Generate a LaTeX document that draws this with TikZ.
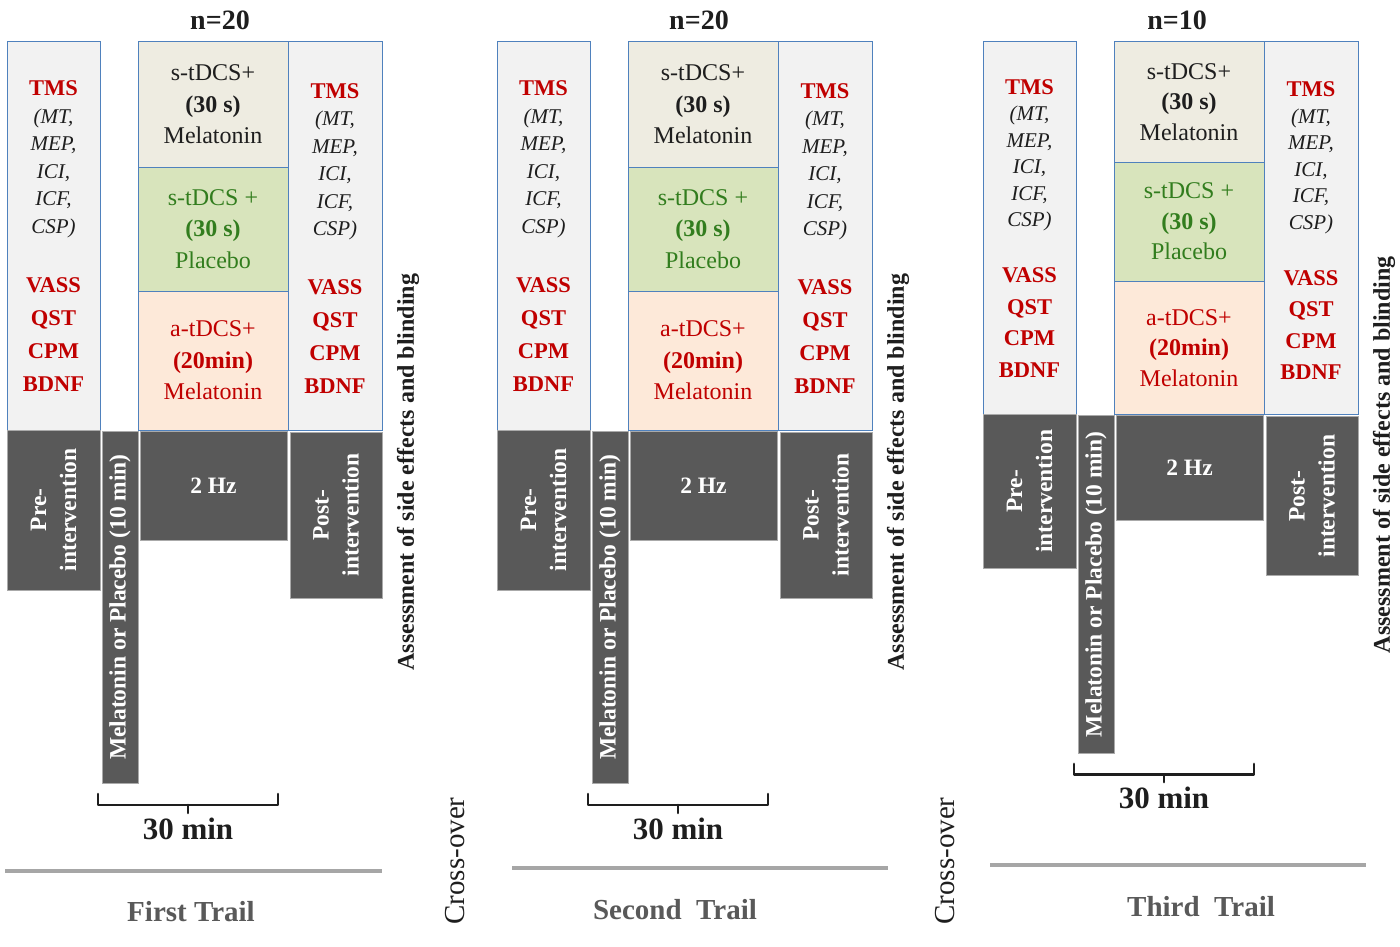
\documentclass[tikz,border=0pt]{standalone}
\usepackage{fontspec}
\setmainfont{Liberation Serif}
\usetikzlibrary{fit}
\definecolor{boxblue}{RGB}{79,129,189}
\definecolor{lightfill}{RGB}{242,242,242}
\definecolor{beigefill}{RGB}{238,236,225}
\definecolor{greenfill}{RGB}{216,228,188}
\definecolor{salmonfill}{RGB}{253,233,217}
\definecolor{darkfill}{RGB}{89,89,89}
\definecolor{darkedge}{RGB}{170,170,170}
\definecolor{redtxt}{RGB}{192,0,0}
\definecolor{greentxt}{RGB}{50,125,30}
\definecolor{linegray}{RGB}{166,166,166}
\definecolor{trailgray}{RGB}{89,89,89}
\definecolor{txt}{RGB}{30,30,30}
\newcommand\PX[1]{#1+\pxo}
\newcommand\PY[1]{42+\pysc*(#1-42)}
\newcommand\mtRed[1]{{\color{redtxt}\bfseries\fontsize{22.5}{\mbs}\selectfont #1}}
\newcommand\mtIt[1]{{\color{txt}\itshape\fontsize{21}{\mbs}\selectfont #1}}
\newcommand\measlines{\mtRed{TMS}\\\mtIt{(MT,}\\\mtIt{MEP,}\\\mtIt{ICI,}\\\mtIt{ICF,}\\\mtIt{CSP)}\\[\mgapA]\mtRed{VASS}\\[\mgapB]\mtRed{QST}\\[\mgapB]\mtRed{CPM}\\[\mgapB]\mtRed{BDNF}}
\tikzset{
  measbox/.style={draw=boxblue, fill=lightfill, line width=1pt, inner sep=0pt},
  melbox/.style={draw=boxblue, fill=beigefill, line width=1pt, inner sep=0pt},
  plabox/.style={draw=boxblue, fill=greenfill, line width=1pt, inner sep=0pt},
  anobox/.style={draw=boxblue, fill=salmonfill, line width=1pt, inner sep=0pt},
  darkbox/.style={draw=darkedge, fill=darkfill, line width=0.8pt, inner sep=0pt},
  meastext/.style={align=center, inner sep=0pt, font=\fontsize{21}{\mbs}\selectfont},
  ctext/.style={align=center, inner sep=0pt, font=\fontsize{24}{\cbs}\selectfont},
  darktext/.style={align=center, inner sep=0pt, text=white, font=\bfseries\fontsize{23.5}{30}\selectfont},
  assess/.style={inner sep=0pt, text=txt, font=\bfseries\fontsize{24}{28}\selectfont},
  nlabel/.style={inner sep=0pt, text=txt, font=\bfseries\fontsize{28}{32}\selectfont},
  minlabel/.style={inner sep=0pt, text=txt, font=\bfseries\fontsize{31}{36}\selectfont},
  bracket/.style={draw=txt, line width=2.6pt, line join=round, line cap=round},
  trailline/.style={draw=linegray, line width=3.5pt},
  trail/.style={inner sep=0pt, text=trailgray, font=\bfseries\fontsize{29}{34}\selectfont},
  cross/.style={inner sep=0pt, text=txt, font=\fontsize{29}{34}\selectfont},
}
% #1 prefix, #2 x offset, #3 vertical scale, #4 n label, #5 n label x
\newcommand\trial[5]{%
  \def\pxo{#2}\def\pysc{#3}%
  \node[nlabel] (#1n) at (#5,20) {#4};
  \coordinate (#1pA) at ({\PX{7}},{\PY{42}});
  \coordinate (#1pB) at ({\PX{100}},{\PY{430}});
  \coordinate (#1qA) at ({\PX{288}},{\PY{42}});
  \coordinate (#1qB) at ({\PX{382}},{\PY{430}});
  \coordinate (#1cA) at ({\PX{138}},{\PY{42}});
  \coordinate (#1cB) at ({\PX{288}},{\PY{167}});
  \coordinate (#1cC) at ({\PX{138}},{\PY{167}});
  \coordinate (#1cD) at ({\PX{288}},{\PY{291}});
  \coordinate (#1cE) at ({\PX{138}},{\PY{291}});
  \coordinate (#1cF) at ({\PX{288}},{\PY{430}});
  \node[measbox, fit=(#1pA)(#1pB)] (#1pre) {};
  \node[measbox, fit=(#1qA)(#1qB)] (#1post) {};
  \node[melbox, fit=(#1cA)(#1cB)] (#1smel) {};
  \node[plabox, fit=(#1cC)(#1cD)] (#1spla) {};
  \node[anobox, fit=(#1cE)(#1cF)] (#1amel) {};
  \node[meastext] (#1pretxt) at (#1pre.center) {\measlines};
  \node[meastext] (#1posttxt) at ([yshift=-2.5pt]#1post.center) {\measlines};
  \node[ctext, text=txt] (#1smeltxt) at (#1smel.center) {s-tDCS+\\{\bfseries (30 s)}\\Melatonin};
  \node[ctext, text=greentxt] (#1splatxt) at (#1spla.center) {s-tDCS +\\{\bfseries (30 s)}\\Placebo};
  \node[ctext, text=redtxt] (#1ameltxt) at (#1amel.center) {a-tDCS+\\{\bfseries (20min)}\\Melatonin};
  \coordinate (#1dA) at ({\PX{7}},{\PY{430}});
  \coordinate (#1dB) at ({\PX{100}},{\PY{590}});
  \coordinate (#1eA) at ({\PX{102}},{\PY{431}});
  \coordinate (#1eB) at ({\PX{138}},{\PY{783}});
  \coordinate (#1fA) at ({\PX{140}},{\PY{431}});
  \coordinate (#1fB) at ({\PX{287}},{\PY{540}});
  \coordinate (#1gA) at ({\PX{290}},{\PY{432}});
  \coordinate (#1gB) at ({\PX{382}},{\PY{598}});
  \node[darkbox, fit=(#1dA)(#1dB)] (#1prebar) {};
  \node[darkbox, fit=(#1eA)(#1eB)] (#1melbar) {};
  \node[darkbox, fit=(#1fA)(#1fB)] (#1hzbar) {};
  \node[darkbox, fit=(#1gA)(#1gB)] (#1postbar) {};
  \node[darktext, rotate=90] (#1prebartxt) at (#1prebar.center) {Pre-\\intervention};
  \node[darktext, rotate=90] (#1melbartxt) at (#1melbar.center) {Melatonin or Placebo (10 min)};
  \node[darktext] (#1hzbartxt) at (#1hzbar.center) {2 Hz};
  \node[darktext, rotate=90] (#1postbartxt) at (#1postbar.center) {Post-\\intervention};
  \node[assess, rotate=90] (#1assess) at ({\PX{408}},{\PY{472}}) {Assessment of side effects and blinding};
  \coordinate (#1b1) at ({\PX{98}},{\PY{794}});
  \coordinate (#1b2) at ({\PX{98}},{\PY{805}});
  \coordinate (#1b3) at ({\PX{278}},{\PY{805}});
  \coordinate (#1b4) at ({\PX{278}},{\PY{794}});
  \coordinate (#1bm) at ({\PX{188}},{\PY{805}});
  \coordinate (#1bt) at ({\PX{188}},{\PY{813}});
  \draw[bracket] (#1b1) -- (#1b2) -- (#1b3) -- (#1b4);
  \draw[bracket] (#1bm) -- (#1bt);
  \node[minlabel] (#1min) at ({\PX{188}},{\PY{829}}) {30 min};
}
\begin{document}
\begin{tikzpicture}[x=1pt, y=-1pt]
  \fill[white] (0,0) rectangle (1400,947);
  \useasboundingbox (0,0) rectangle (1400,947);
  \def\mbs{27.5}\def\mgapA{31.5pt}\def\mgapB{5.5pt}\def\cbs{31.5}
  \trial{a}{0}{1}{n=20}{220}
  \trial{b}{490}{1}{n=20}{699}
  \def\mbs{26.5}\def\mgapA{29.5pt}\def\mgapB{5pt}\def\cbs{30.5}
  \trial{c}{976}{0.96}{n=10}{1177}
  % separators
  \coordinate (la1) at (5,871);   \coordinate (la2) at (382,871);
  \coordinate (lb1) at (512,868); \coordinate (lb2) at (888,868);
  \coordinate (lc1) at (990,865); \coordinate (lc2) at (1366,865);
  \draw[trailline] (la1) -- (la2);
  \draw[trailline] (lb1) -- (lb2);
  \draw[trailline] (lc1) -- (lc2);
  \node[trail] (t1) at (191,912) {First Trail};
  \node[trail] (t2) at (675,910) {Second~ Trail};
  \node[trail] (t3) at (1201,907) {Third~ Trail};
  \node[cross, rotate=90] (x1) at (455,861) {Cross-over};
  \node[cross, rotate=90] (x2) at (945,861) {Cross-over};
\end{tikzpicture}
\end{document}
